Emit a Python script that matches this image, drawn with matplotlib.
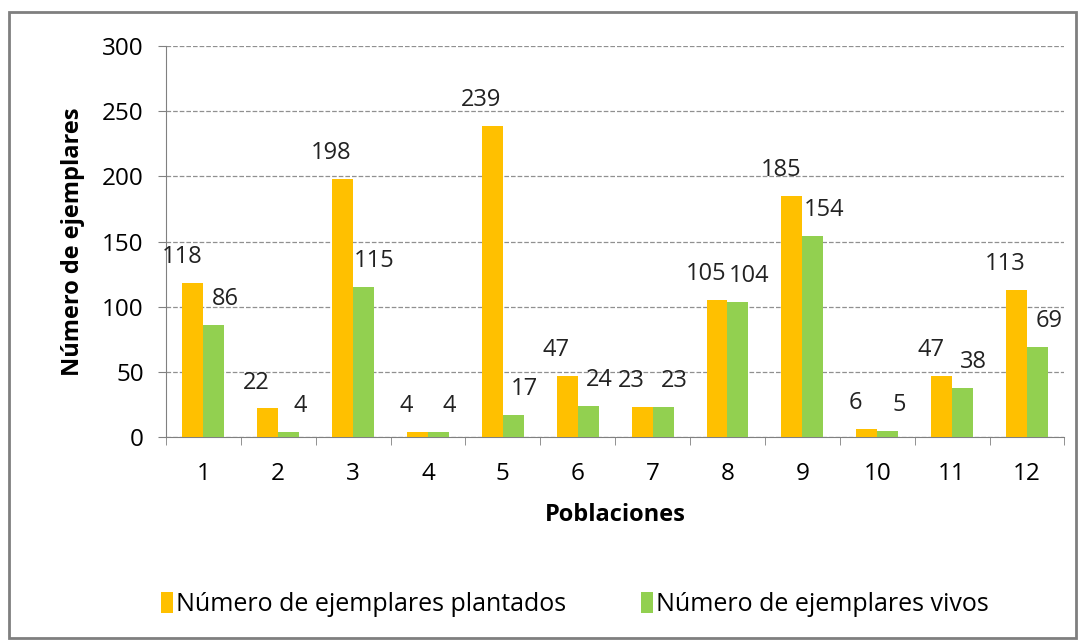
import numpy as np
import matplotlib.pyplot as plt
from matplotlib.patches import Rectangle

poblaciones = ['1', '2', '3', '4', '5', '6', '7', '8', '9', '10', '11', '12']
plantados = [118, 22, 198, 4, 239, 47, 23, 105, 185, 6, 47, 113]
vivos = [86, 4, 115, 4, 17, 24, 23, 104, 154, 5, 38, 69]

plt.rcParams['font.family'] = ['Open Sans', 'DejaVu Sans']

fig = plt.figure(figsize=(10.84, 6.4), dpi=100)
ax = fig.add_axes([0.153, 0.317, 0.829, 0.611])

# outer chart border
fig.patches.append(Rectangle((0.008, 0.003), 0.985, 0.978, transform=fig.transFigure,
                             fill=False, edgecolor='#7f7f7f', linewidth=2))

x = np.arange(len(poblaciones))
w = 0.28
ax.bar(x - w / 2, plantados, w, color='#FFC000', label='Número de ejemplares plantados', zorder=3)
ax.bar(x + w / 2, vivos, w, color='#92D050', label='Número de ejemplares vivos', zorder=3)

# value labels, nudged apart like Excel does
for xi, v in zip(x - w / 2, plantados):
    ax.annotate(str(v), (xi, v), xytext=(-8, 10), textcoords='offset points',
                ha='center', va='bottom', fontsize=17, color='#222222')
for xi, v in zip(x + w / 2, vivos):
    ax.annotate(str(v), (xi, v), xytext=(8, 10), textcoords='offset points',
                ha='center', va='bottom', fontsize=17, color='#222222')

ax.set_xlim(-0.5, len(poblaciones) - 0.5)
ax.set_ylim(0, 300)
ax.set_yticks(range(0, 301, 50))
ax.set_xticks(x)
ax.set_xticklabels(poblaciones)
ax.set_xticks(np.arange(-0.5, len(poblaciones), 1), minor=True)
ax.tick_params(axis='x', which='major', length=0, labelsize=17.5, pad=18)
ax.tick_params(axis='x', which='minor', length=6, color='#808080')
ax.tick_params(axis='y', labelsize=17.5, length=6, color='#808080', pad=10)

ax.yaxis.grid(True, linestyle='--', color='#909090', linewidth=0.9, zorder=0)
for s in ['top', 'right']:
    ax.spines[s].set_visible(False)
ax.spines['left'].set_color('#808080')
ax.spines['bottom'].set_color('#808080')

ax.set_xlabel('Poblaciones', fontsize=17, fontweight='bold', labelpad=12)
ax.set_ylabel('Número de ejemplares', fontsize=17, fontweight='bold', labelpad=12)

fig.legend(loc='center', bbox_to_anchor=(0.53, 0.055), ncol=2, frameon=False,
           fontsize=18, handlelength=0.5, handleheight=0.9, handletextpad=0.1, columnspacing=3)

plt.savefig('out.png', dpi=100)
